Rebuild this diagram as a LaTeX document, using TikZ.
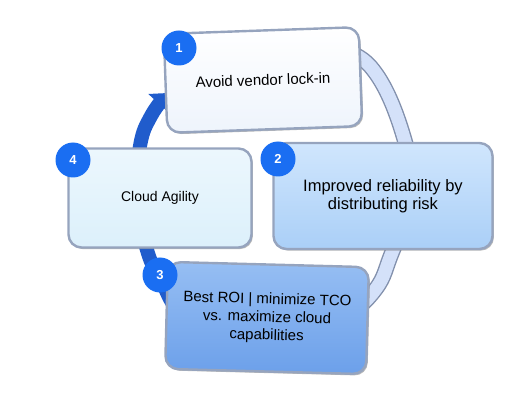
\documentclass[tikz,border=0pt]{standalone}
\usepackage{fontspec}
\setmainfont{Liberation Sans}
\usetikzlibrary{arrows.meta,shadows}
\definecolor{cyEdge}    {RGB}{150,164,190}
\definecolor{cyRingE}   {RGB}{130,144,172}
\definecolor{cyRing}    {RGB}{212,225,249}
\definecolor{cyArrow}   {RGB}{ 32, 92,204}
\definecolor{cyBadge}   {RGB}{ 26,110,242}
\definecolor{cyOneB}    {RGB}{238,244,252}
\definecolor{cyFourT}   {RGB}{236,247,253}
\definecolor{cyFourB}   {RGB}{220,240,251}
\definecolor{cyTwoT}    {RGB}{208,230,253}
\definecolor{cyTwoB}    {RGB}{170,207,247}
\definecolor{cyThreeT}  {RGB}{150,190,243}
\definecolor{cyThreeB}  {RGB}{108,160,234}

\begin{document}
\begin{tikzpicture}[x=1pt,y=-1pt,
  every node/.style={font=\fontsize{15}{17}\selectfont},
  card/.style={draw=cyEdge,line width=2.4pt,rounded corners=13pt,
               align=center,inner sep=0pt,
               drop shadow={shadow xshift=1.4pt,shadow yshift=-1.6pt,opacity=.55}},
  badge/.style={circle,fill=cyBadge,text=white,minimum size=35pt,inner sep=0pt,
                font=\fontsize{13}{13}\selectfont\bfseries}
]
\useasboundingbox (0,0) rectangle (528,406);
% ring behind the cards: pale right half, dark arrow on the left
\draw[line width=1.4pt,draw=cyRingE,double=cyRing,double distance=13pt]
  plot[smooth,tension=0.7] coordinates
  {(322,45) (370,66) (404,138) (409,198) (391,255) (371,295) (320,340)};
\draw[line width=14pt,draw=cyArrow,-{Triangle[length=14pt,width=27pt]}]
  plot[smooth,tension=0.7] coordinates
  {(250,352) (186,318) (160,278) (147,250) (136,200) (140,146) (151,116) (168,93)};
% cards
\node[card,top color=white,bottom color=cyOneB,
      minimum width=195pt,minimum height=99pt,rotate=2] (avoid) at (263,80)
   {Avoid vendor lock-in};
\node[card,top color=cyFourT,bottom color=cyFourB,
      minimum width=183pt,minimum height=99pt,
      font=\fontsize{14}{16}\selectfont] (agile) at (160,198)
   {Cloud Agility};
\node[card,top color=cyTwoT,bottom color=cyTwoB,
      minimum width=219pt,minimum height=106pt,
      font=\fontsize{16.5}{18}\selectfont] (risk) at (383,196)
   {Improved reliability by\\distributing risk};
\node[card,top color=cyThreeT,bottom color=cyThreeB,
      minimum width=201pt,minimum height=107pt,rotate=-1.5,
      font=\fontsize{15}{18}\selectfont] (roi) at (267,318)
   {Best ROI | minimize TCO\\vs. maximize cloud\\capabilities};
% numbered badges
\node[badge] (nOne)   at (179,48)  {1};
\node[badge] (nTwo)   at (278,159) {2};
\node[badge] (nThree) at (160,275) {3};
\node[badge] (nFour)  at (73,160)  {4};
\end{tikzpicture}
\end{document}
